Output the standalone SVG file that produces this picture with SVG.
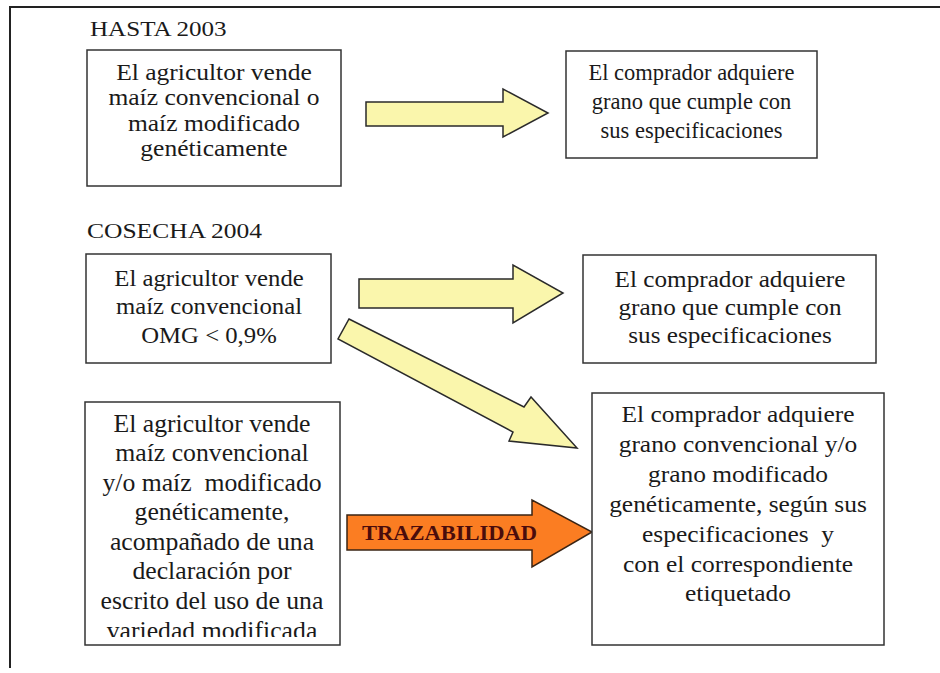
<svg xmlns="http://www.w3.org/2000/svg" width="940" height="673" viewBox="0 0 940 673">
<defs>
<style>
.frame{fill:none;stroke:#222;stroke-width:2}
.box{fill:#fff;stroke:#333;stroke-width:1.5}
.t{font-family:"Liberation Serif","Times New Roman",serif;fill:#1a1a1a;text-anchor:middle}
.h{font-family:"Liberation Serif","Times New Roman",serif;fill:#1a1a1a;font-size:22px}
.ya{fill:#FAF6AC;stroke:#2a2a2a;stroke-width:1.5;stroke-linejoin:miter}
.oa{fill:#FB7D22;stroke:#3a2414;stroke-width:1.5}
.tz{font-family:"Liberation Serif","Times New Roman",serif;font-weight:bold;font-size:22px;fill:#4a0c0c}
</style>
<clipPath id="clip4"><rect x="85" y="402" width="255" height="235"/></clipPath>
</defs>
<rect width="940" height="673" fill="#fff"/>
<polyline class="frame" points="10,668 10,7 940,7"/>

<text class="h" transform="translate(90,0) scale(1.14,1)" x="0" y="36">HASTA 2003</text>
<text class="h" transform="translate(87,0) scale(1.16,1)" x="0" y="238">COSECHA 2004</text>

<g id="connectors">
<polygon class="ya" points="366,102 503,102 503,89 548,113 503,137 503,126 366,126"/>
<polygon class="ya" points="359,279 513,279 513,265 563,293 513,323 513,308 359,308"/>
<polygon class="ya" points="349,319 524,407 531,397 577,448 509,441 513,432 338,339"/>
<g id="trazabilidad">
<polygon class="oa" points="347,515 532,515 532,500 592,532 532,567 532,550 347,550"/>
<text class="tz" x="362" y="540" textLength="175" lengthAdjust="spacingAndGlyphs">TRAZABILIDAD</text>
</g>
</g>

<g id="box1">
<rect class="box" x="87" y="50" width="254" height="136"/>
<g class="t" font-size="23" transform="translate(214,0) scale(1.11,1)">
<text x="0" y="80">El agricultor vende</text>
<text x="0" y="105.5">maíz convencional o</text>
<text x="0" y="131">maíz modificado</text>
<text x="0" y="156.5">genéticamente</text>
</g>
</g>

<g id="box2">
<rect class="box" x="566" y="51" width="251" height="107"/>
<g class="t" font-size="22.5" transform="translate(691.5,0)">
<text x="0" y="80">El comprador adquiere</text>
<text x="0" y="109">grano que cumple con</text>
<text x="0" y="138">sus especificaciones</text>
</g>
</g>

<g id="box3">
<rect class="box" x="86" y="254" width="245" height="109"/>
<g class="t" font-size="24" transform="translate(209,0) scale(1.03,1)">
<text x="0" y="286">El agricultor vende</text>
<text x="0" y="314.5">maíz convencional</text>
<text x="0" y="343">OMG &lt; 0,9%</text>
</g>
</g>

<g id="box4">
<rect class="box" x="85" y="402" width="255" height="243"/>
<g clip-path="url(#clip4)">
<g class="t" font-size="24.5" transform="translate(212,0) scale(1.05,1)">
<text x="0" y="432">El agricultor vende</text>
<text x="0" y="461.5">maíz convencional</text>
<text x="0" y="491">y/o maíz &#160;modificado</text>
<text x="0" y="520.5">genéticamente,</text>
<text x="0" y="550">acompañado de una</text>
<text x="0" y="579.5">declaración por</text>
<text x="0" y="609">escrito del uso de una</text>
<text x="0" y="639">variedad modificada</text>
</g>
</g>
</g>

<g id="box5">
<rect class="box" x="583" y="255" width="293" height="108"/>
<g class="t" font-size="24" transform="translate(730,0) scale(1.05,1)">
<text x="0" y="287">El comprador adquiere</text>
<text x="0" y="315">grano que cumple con</text>
<text x="0" y="343">sus especificaciones</text>
</g>
</g>

<g id="box6">
<rect class="box" x="592" y="393" width="292" height="252"/>
<g class="t" font-size="24" transform="translate(738,0) scale(1.06,1)">
<text x="0" y="422">El comprador adquiere</text>
<text x="0" y="452">grano convencional y/o</text>
<text x="0" y="482">grano modificado</text>
<text x="0" y="512">genéticamente, según sus</text>
<text x="0" y="542">especificaciones &#160;y</text>
<text x="0" y="572">con el correspondiente</text>
<text x="0" y="601">etiquetado</text>
</g>
</g>
</svg>
